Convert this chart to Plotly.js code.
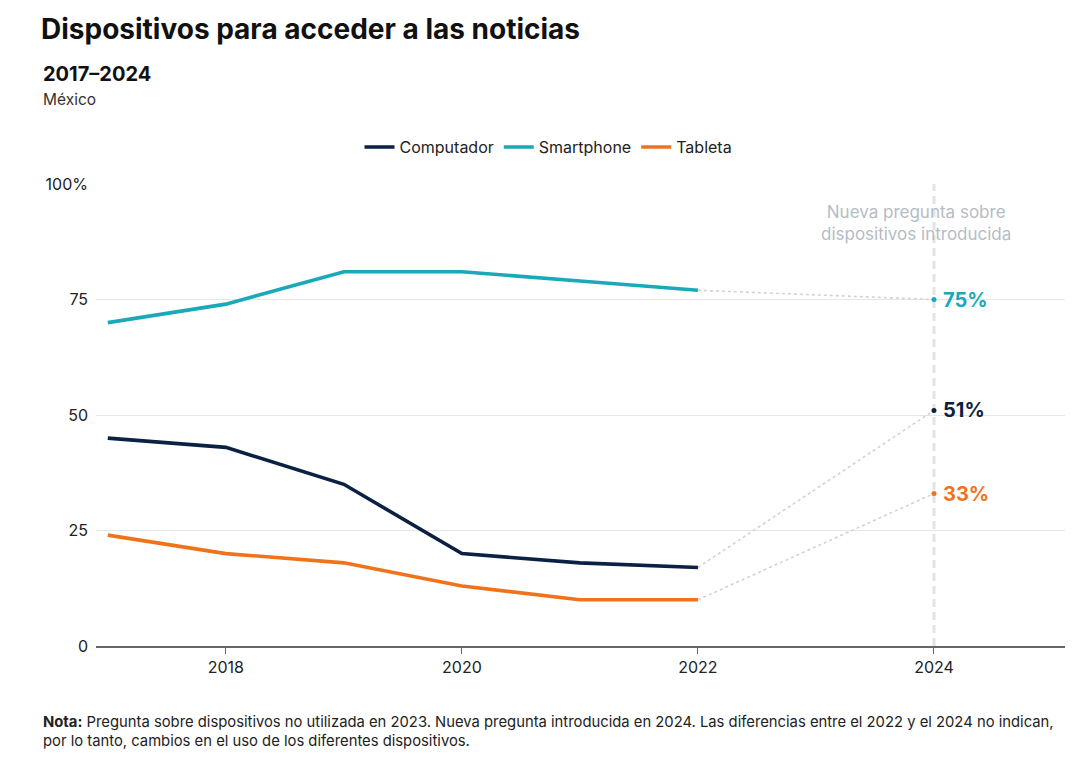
<!DOCTYPE html>
<html>
<head>
<meta charset="utf-8">
<script src="https://cdn.plot.ly/plotly-3.0.1.min.js"></script>
<style>
  html, body { margin: 0; padding: 0; background: #fff; }
  #chart { width: 1080px; height: 757px; }
</style>
</head>
<body>
<div id="chart"></div>
<script>
// Survey years (2023 had no device question)
const years = [2017, 2018, 2019, 2020, 2021, 2022];
const newYear = 2024;

// Share of respondents (%) per device, 2017–2022
const computador = [45, 43, 35, 20, 18, 17];
const smartphone = [70, 74, 81, 81, 79, 77];
const tableta = [24, 20, 18, 13, 10, 10];

// 2024 values (new question wording)
const computador2024 = 51;
const smartphone2024 = 75;
const tableta2024 = 33;

const xTicks = [2018, 2020, 2022, 2024];
const yTicks = [0, 25, 50, 75, 100];
const yTickLabels = ['0', '25', '50', '75', '100%'];

const series = [
  { name: 'Computador', values: computador, latest: computador2024, color: '#0b2143' },
  { name: 'Smartphone', values: smartphone, latest: smartphone2024, color: '#1aa9b8' },
  { name: 'Tableta', values: tableta, latest: tableta2024, color: '#f0731c' }
];

const FONT = 'Inter, "Noto Sans", sans-serif';
const traces = [];

// Dotted gray bridges from the last old-question year to 2024
series.forEach(s => {
  traces.push({
    x: [years[years.length - 1], newYear],
    y: [s.values[s.values.length - 1], s.latest],
    mode: 'lines',
    line: { color: '#cfd2d6', width: 1.6, dash: 'dot' },
    showlegend: false,
    hoverinfo: 'skip'
  });
});

// Main series lines
series.forEach(s => {
  traces.push({
    x: years,
    y: s.values,
    name: s.name,
    mode: 'lines',
    line: { color: s.color, width: 3.6 },
    showlegend: true
  });
});

// 2024 points
series.forEach(s => {
  traces.push({
    x: [newYear],
    y: [s.latest],
    mode: 'markers',
    marker: { color: s.color, size: 5 },
    showlegend: false,
    cliponaxis: false
  });
});

// Value labels next to the 2024 points
const valueLabels = series.map(s => ({
  text: '<b>' + s.latest + '%</b>',
  xref: 'x', yref: 'y',
  x: newYear, y: s.latest,
  xanchor: 'left', yanchor: 'middle',
  xshift: 7, yshift: 0,
  showarrow: false,
  font: { family: FONT, size: 20, color: s.color }
}));

const layout = {
  width: 1080,
  height: 757,
  paper_bgcolor: '#ffffff',
  plot_bgcolor: '#ffffff',
  margin: { l: 96, r: 15, t: 184, b: 111 },
  font: { family: FONT, size: 16, color: '#222' },
  title: {
    text: '<b>Dispositivos para acceder a las noticias</b>',
    xref: 'container', yref: 'container',
    x: 41 / 1080, xanchor: 'left',
    y: 1 - 29 / 757, yanchor: 'middle',
    font: { family: FONT, size: 28, color: '#111' }
  },
  showlegend: true,
  legend: {
    orientation: 'h',
    x: 0.467, xanchor: 'center',
    y: 1.08, yanchor: 'middle',
    font: { family: FONT, size: 16, color: '#222' },
    itemwidth: 30,
    traceorder: 'normal'
  },
  xaxis: {
    range: [2016.9, 2025.11],
    tickvals: xTicks,
    ticktext: xTicks.map(String),
    showgrid: false,
    zeroline: false,
    showline: true,
    linecolor: '#666',
    linewidth: 1.5,
    ticks: 'outside',
    ticklen: 6,
    tickcolor: '#666',
    tickfont: { family: FONT, size: 16, color: '#222' },
    fixedrange: true
  },
  yaxis: {
    range: [0, 100],
    tickvals: yTicks,
    ticktext: yTickLabels,
    showgrid: true,
    gridcolor: '#e6e6e6',
    gridwidth: 1,
    zeroline: false,
    showline: false,
    ticks: '',
    ticklabelstandoff: 7,
    tickfont: { family: FONT, size: 16, color: '#222' },
    fixedrange: true
  },
  shapes: [
    {
      type: 'line', xref: 'x', yref: 'paper',
      x0: newYear, x1: newYear, y0: 0, y1: 1,
      line: { color: '#e1e3e6', width: 3, dash: '8px,5px' },
      layer: 'below'
    }
  ],
  annotations: [
    {
      text: '<b>2017–2024</b>',
      xref: 'paper', yref: 'paper',
      x: (41 - 96) / 969, y: 1 + (184 - 74) / 462,
      xanchor: 'left', yanchor: 'middle', showarrow: false,
      font: { family: FONT, size: 20, color: '#111' }
    },
    {
      text: 'México',
      xref: 'paper', yref: 'paper',
      x: (41 - 96) / 969, y: 1 + (184 - 100) / 462,
      xanchor: 'left', yanchor: 'middle', showarrow: false,
      font: { family: FONT, size: 15.5, color: '#333' }
    },
    {
      text: 'Nueva pregunta sobre<br>dispositivos introducida',
      xref: 'x', yref: 'paper',
      x: newYear - 0.15, y: 1 - (223 - 184) / 462,
      xanchor: 'center', yanchor: 'middle', showarrow: false,
      align: 'center',
      font: { family: FONT, size: 17, color: '#b5bcc6' }
    },
    {
      text: '<b>Nota:</b> Pregunta sobre dispositivos no utilizada en 2023. Nueva pregunta introducida en 2024. Las diferencias entre el 2022 y el 2024 no indican,<br>por lo tanto, cambios en el uso de los diferentes dispositivos.',
      xref: 'paper', yref: 'paper',
      x: (41 - 96) / 969, y: -(731 - 646) / 462,
      xanchor: 'left', yanchor: 'middle', showarrow: false,
      align: 'left',
      font: { family: FONT, size: 14.8, color: '#222' }
    }
  ].concat(valueLabels)
};

Plotly.newPlot('chart', traces, layout, { displayModeBar: false, staticPlot: true });
</script>
</body>
</html>
